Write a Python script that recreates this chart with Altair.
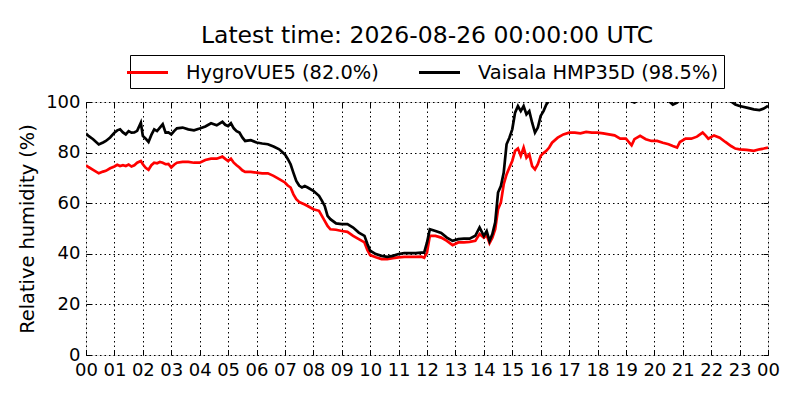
import altair as alt
import pandas as pd

# ---- data ----
hours = [0.0, 0.1, 0.25, 0.45, 0.6, 0.7, 0.85, 1.0, 1.1, 1.2, 1.3, 1.4, 1.5, 1.6, 1.7, 1.8, 1.93,
         2.0, 2.1, 2.2, 2.3, 2.4, 2.5, 2.6, 2.7, 2.8, 2.9, 3.0, 3.1, 3.2, 3.4, 3.6, 3.8, 4.0,
         4.2, 4.4, 4.6, 4.8, 4.9, 5.0, 5.1, 5.2, 5.3, 5.4, 5.5, 5.6, 5.8, 6.0, 6.2, 6.4, 6.6,
         6.8, 7.0, 7.1, 7.2, 7.3, 7.4, 7.5, 7.6, 7.7, 7.8, 8.0, 8.2, 8.3, 8.4, 8.5, 8.6, 8.8,
         9.0, 9.2, 9.4, 9.6, 9.8, 9.9, 10.0, 10.2, 10.4, 10.6, 10.8, 11.0, 11.2, 11.4, 11.6,
         11.8, 11.9, 12.0, 12.1, 12.3, 12.5, 12.7, 12.9, 13.1, 13.3, 13.5, 13.7, 13.85, 14.0,
         14.1, 14.2, 14.3, 14.4, 14.5, 14.6, 14.7, 14.8, 14.9, 15.0, 15.1, 15.2, 15.3, 15.4,
         15.5, 15.6, 15.7, 15.8, 15.9, 16.0, 16.1, 16.2, 16.3, 16.4, 16.6, 16.8, 17.0, 17.2,
         17.4, 17.6, 17.8, 18.0, 18.2, 18.4, 18.6, 18.8, 19.0, 19.2, 19.3, 19.5, 19.7, 19.9,
         20.1, 20.3, 20.5, 20.65, 20.8, 20.9, 21.1, 21.3, 21.5, 21.7, 21.8, 21.9, 22.1, 22.3,
         22.5, 22.7, 22.85, 23.0, 23.25, 23.5, 23.7, 23.85, 24.0]

vaisala = [87.5, 86.5, 85.3, 83.2, 84.0, 84.6, 86.0, 87.9, 88.8, 89.2, 88.0, 87.2, 88.5, 87.9, 88.0, 88.6, 91.8,
           86.6, 85.5, 84.2, 87.0, 89.2, 88.5, 89.9, 91.2, 87.9, 88.0, 87.2, 88.5, 89.6, 89.9, 89.2, 88.8, 89.5,
           90.3, 91.6, 90.8, 92.2, 91.0, 90.5, 91.6, 89.6, 88.5, 87.9, 86.0, 84.6, 84.9, 84.0, 83.6, 83.3, 82.4,
           81.3, 79.3, 77.5, 75.4, 72.0, 68.8, 67.0, 66.2, 66.8, 66.2, 64.9, 62.9, 61.0, 58.9, 55.0, 53.7, 52.0,
           51.7, 51.7, 50.4, 48.4, 47.1, 44.0, 41.2, 39.9, 39.2, 38.8, 39.2, 39.9, 40.3, 40.3, 40.3,
           40.5, 40.5, 44.5, 49.7, 49.0, 48.2, 46.4, 45.1, 45.8, 46.0, 46.0, 47.1, 50.4, 47.1,
           49.0, 45.1, 47.8, 52.4, 64.2, 66.8, 72.1, 83.3, 85.9, 89.2, 95.8, 98.4, 96.4, 98.4,
           95.1, 96.4, 91.8, 87.9, 89.9, 94.5, 96.4, 99.0, 100.6, 101.5, 102.5, 103.0, 103.0, 103.0,
           103.0, 103.0, 103.0, 103.0, 102.5, 102.0, 101.5, 101.0, 101.0, 100.3, 99.8, 101.0, 101.5, 101.5,
           101.5, 101.0, 100.5, 99.0, 99.8, 100.8, 101.5, 101.5, 101.5, 101.0, 101.0, 101.5, 101.5, 101.2,
           100.8, 100.2, 99.0, 98.4, 97.8, 97.1, 96.8, 97.4, 98.5]

hygrovue = [75.0, 74.2, 73.2, 71.8, 72.5, 72.8, 73.8, 74.5, 75.2, 74.7, 75.0, 74.7, 75.3, 74.5, 75.0, 76.0, 76.7,
            75.4, 74.0, 73.2, 75.0, 76.0, 75.8, 76.3, 76.0, 75.4, 75.5, 74.1, 75.2, 76.0, 76.3, 76.3, 76.0, 76.0,
            77.1, 77.6, 77.6, 78.4, 77.5, 76.7, 77.6, 76.0, 75.0, 74.1, 73.0, 72.4, 72.4, 72.1, 71.8, 71.8, 70.8,
            69.5, 68.2, 67.0, 66.2, 63.5, 61.6, 60.5, 60.0, 59.5, 58.9, 57.6, 57.0, 55.0, 53.0, 51.0, 49.7, 49.5,
            49.0, 48.7, 47.1, 45.8, 44.5, 41.5, 39.5, 38.6, 37.9, 37.9, 38.3, 38.6, 38.8, 38.8, 38.8,
            38.9, 38.4, 40.5, 47.1, 47.1, 46.4, 45.1, 43.4, 44.5, 44.5, 44.7, 45.1, 47.8, 46.4,
            47.4, 44.2, 46.4, 49.7, 57.6, 60.3, 67.5, 71.4, 74.1, 76.7, 80.7, 81.6, 78.7, 82.0,
            78.0, 79.3, 74.7, 73.4, 75.4, 78.7, 79.8, 80.7, 82.0, 83.9, 85.9, 87.2, 87.9, 87.9,
            87.6, 88.2, 87.9, 87.9, 87.6, 87.2, 86.8, 85.5, 85.5, 82.9, 85.3, 86.6, 85.3, 84.6,
            84.6, 83.9, 83.3, 82.6, 82.0, 84.2, 85.5, 85.5, 86.3, 87.9, 86.8, 85.5, 86.8, 85.9,
            84.2, 82.6, 81.6, 81.3, 81.1, 80.7, 81.3, 81.6, 82.0]

series_names = ["HygroVUE5 (82.0%)", "Vaisala HMP35D (98.5%)"]
series_colors = ["#ff0000", "#000000"]
hour_ticks = list(range(25))
hour_labels = ["00", "01", "02", "03", "04", "05", "06", "07", "08", "09", "10", "11",
               "12", "13", "14", "15", "16", "17", "18", "19", "20", "21", "22", "23", "00"]
rh_ticks = [0, 20, 40, 60, 80, 100]

df = pd.concat([
    pd.DataFrame({"hour": hours, "rh": hygrovue, "series": series_names[0]}),
    pd.DataFrame({"hour": hours, "rh": vaisala, "series": series_names[1]}),
])

FONT = "DejaVu Sans"
label_expr = "[" + ",".join("'%s'" % s for s in hour_labels) + "][datum.value]"

x_scale = alt.Scale(domain=[0, 24], nice=False, zero=False)
y_scale = alt.Scale(domain=[0, 100], nice=False)

lines = alt.Chart(df).mark_line(strokeWidth=2.7, clip=True).encode(
    x=alt.X("hour:Q", scale=x_scale,
            axis=alt.Axis(values=hour_ticks, labelExpr=label_expr, title=None,
                          grid=True, gridColor="black", gridDash=[1.5, 3], gridWidth=1,
                          domain=False, tickColor="black", tickSize=5, offset=-5,
                          labelPadding=6, labelFontSize=18, labelFont=FONT,
                          labelColor="black", labelFlush=False, labelOverlap=False)),
    y=alt.Y("rh:Q", scale=y_scale,
            axis=alt.Axis(values=rh_ticks, title="Relative humidity (%)",
                          grid=True, gridColor="black", gridDash=[1.5, 3], gridWidth=1,
                          domain=False, tickColor="black", tickSize=5, offset=-5,
                          labelPadding=6, labelFontSize=18, labelFont=FONT,
                          labelColor="black", labelFlush=False, labelOverlap=False,
                          titleFont=FONT, titleFontSize=19.4, titleFontWeight="normal",
                          titleColor="black", titlePadding=8)),
    color=alt.Color("series:N",
                    scale=alt.Scale(domain=series_names, range=series_colors),
                    legend=alt.Legend(title=None, orient="none", legendX=44, legendY=-47,
                                      direction="horizontal", strokeColor="black",
                                      padding=6, cornerRadius=0, fillColor="white",
                                      symbolType="M-2.05,0L2.05,0", symbolSize=400,
                                      symbolStrokeWidth=3, labelOffset=27,
                                      labelFontSize=19.4, labelFont=FONT, labelColor="black",
                                      labelLimit=400, columnPadding=34)),
)

frame_ticks = alt.Chart(df).mark_line(strokeOpacity=0).encode(
    x=alt.X("hour:Q", scale=x_scale,
            axis=alt.Axis(orient="top", values=hour_ticks, labels=False, title=None,
                          grid=False, domain=False, tickColor="black", tickSize=5, offset=-5)),
    y=alt.Y("rh:Q", scale=y_scale,
            axis=alt.Axis(orient="right", values=rh_ticks, labels=False, title=None,
                          grid=False, domain=False, tickColor="black", tickSize=5, offset=-5)),
)

chart = alt.layer(lines, frame_ticks).resolve_axis(x="independent", y="independent").properties(
    width=682, height=253,
    title=alt.TitleParams("Latest time: 2026-08-26 00:00:00 UTC", font=FONT, fontSize=23.5,
                          fontWeight="normal", color="black", anchor="middle", offset=7),
    autosize=alt.AutoSizeParams(type="none"),
    padding={"left": 78, "top": 94, "right": 24, "bottom": 38},
).configure_view(stroke="black", strokeWidth=1.3).configure(background="white")

chart.save("out.html", embed_options={"renderer": "svg", "actions": False})
